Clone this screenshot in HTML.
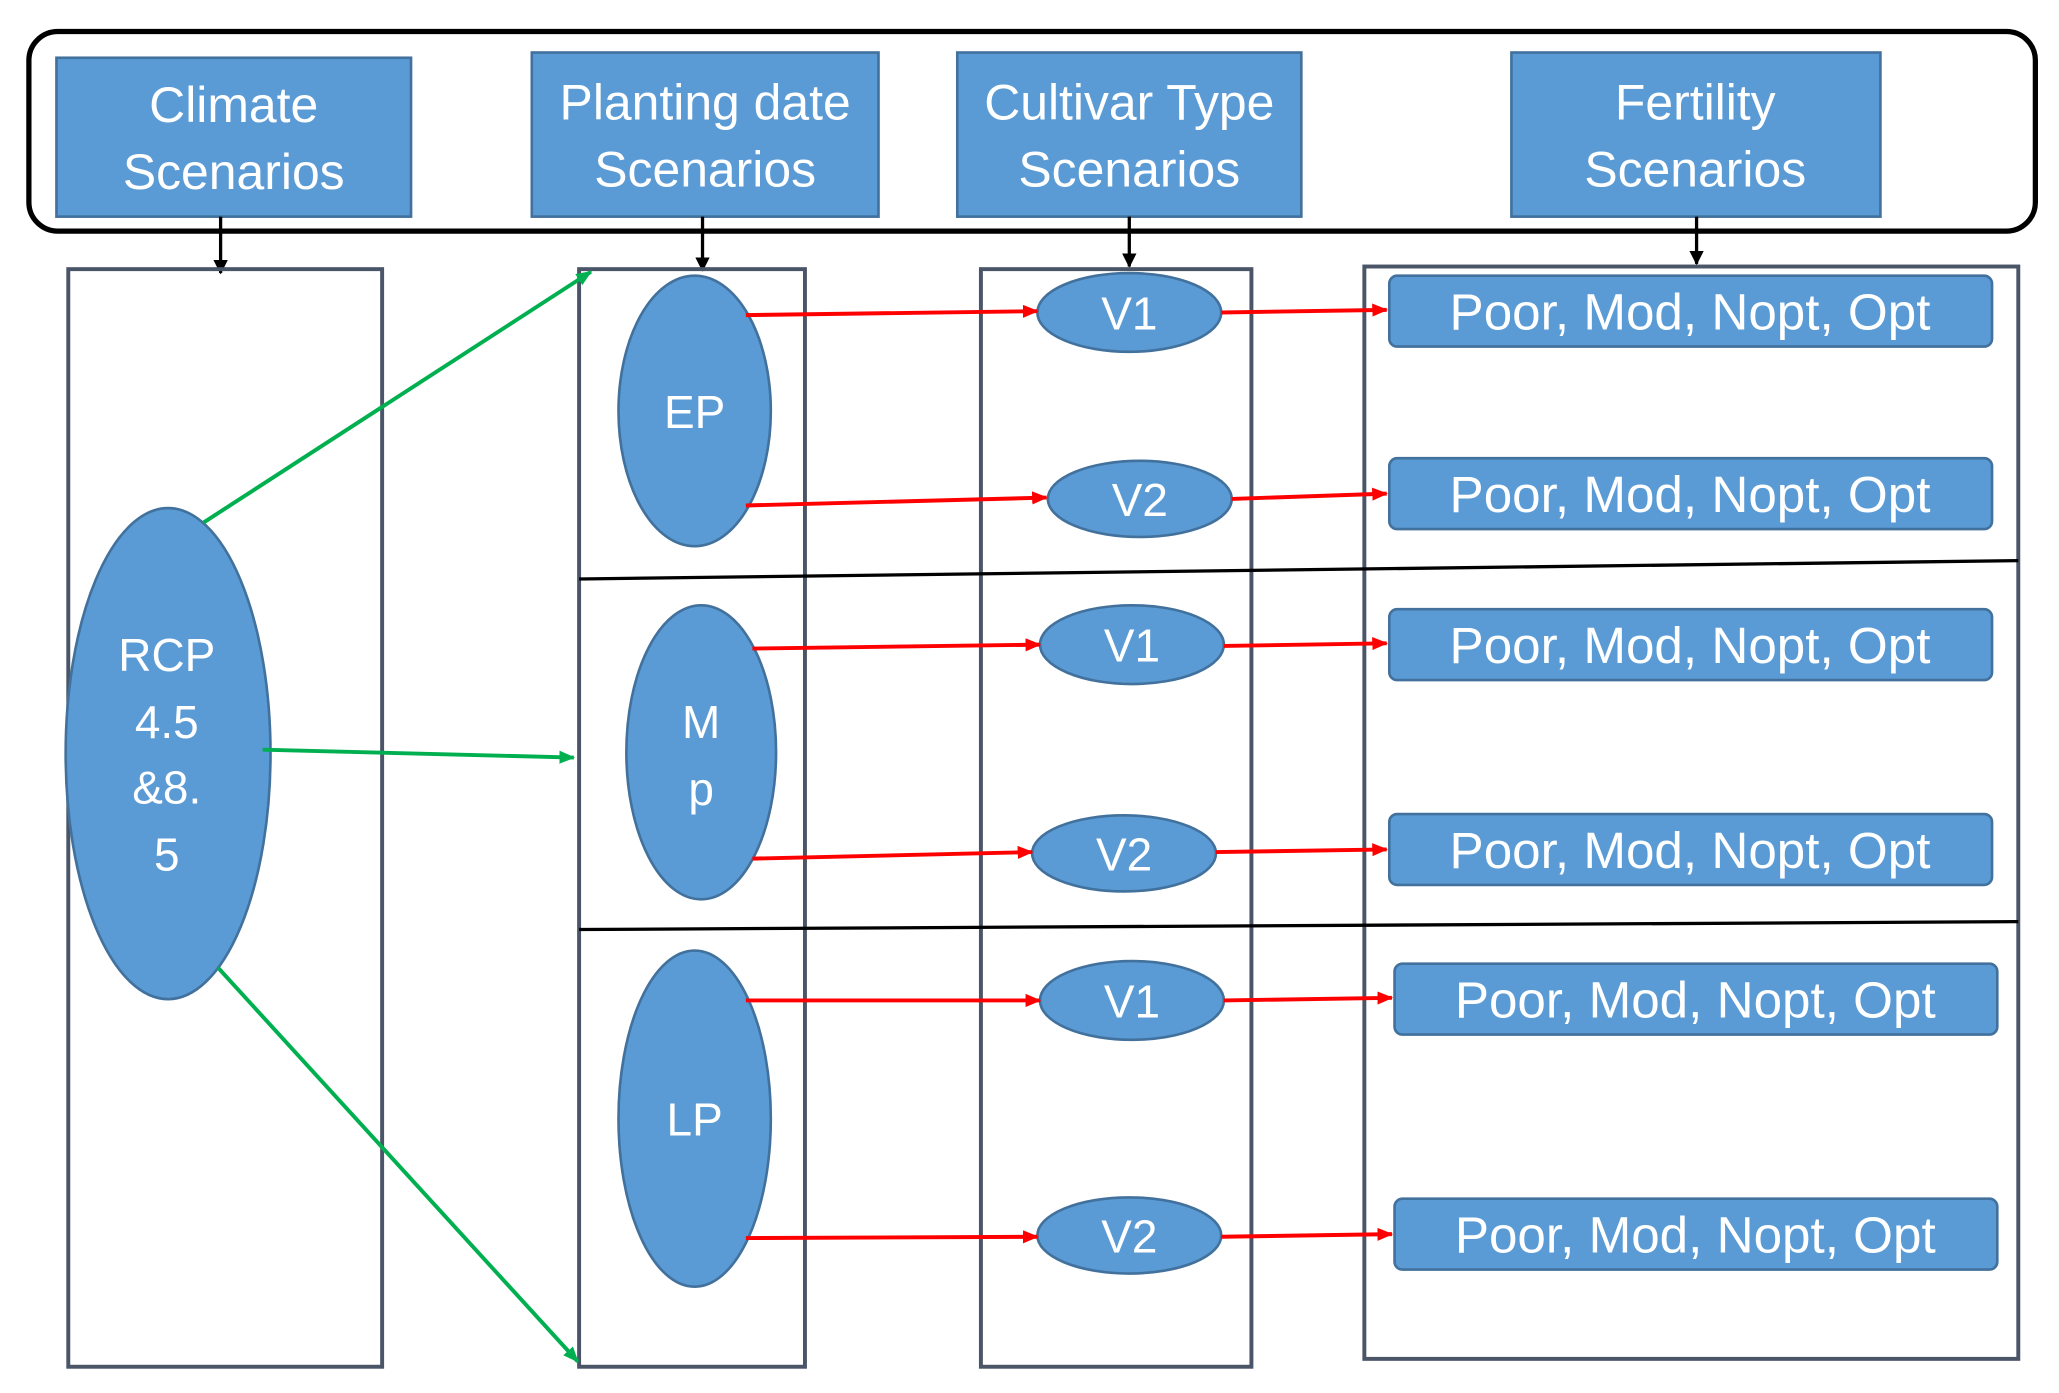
<!DOCTYPE html>
<html><head><meta charset="utf-8"><style>html,body{margin:0;padding:0;background:#fff}svg{display:block}</style></head>
<body>
<svg width="2059" height="1393" viewBox="0 0 1568 1061" preserveAspectRatio="none" xmlns="http://www.w3.org/2000/svg" font-family="'Liberation Sans', sans-serif">
<defs>
<marker id="ab" markerWidth="11" markerHeight="11" refX="10" refY="5.5" orient="auto" markerUnits="userSpaceOnUse"><path d="M0,0 L11,5.5 L0,11 z" fill="#000"/></marker>
<marker id="ar" markerWidth="12" markerHeight="10" refX="11" refY="5" orient="auto" markerUnits="userSpaceOnUse"><path d="M0,0 L12,5 L0,10 z" fill="#f00"/></marker>
<marker id="ag" markerWidth="12" markerHeight="10" refX="11" refY="5" orient="auto" markerUnits="userSpaceOnUse"><path d="M0,0 L12,5 L0,10 z" fill="#00b050"/></marker>
</defs>
<rect x="22" y="24" width="1528" height="152" rx="22" fill="#fff" stroke="#000" stroke-width="4"/>
<g fill="#5B9BD5" stroke="#41719C" stroke-width="2">
<rect x="43" y="44" width="270" height="121"/>
<rect x="405" y="40" width="264" height="125"/>
<rect x="729" y="40" width="262" height="125"/>
<rect x="1151" y="40" width="281" height="125"/>
</g>
<g fill="#fff" font-size="38" text-anchor="middle">
<text x="178" y="93">Climate</text><text x="178" y="144">Scenarios</text>
<text x="537" y="91">Planting date</text><text x="537" y="142">Scenarios</text>
<text x="860" y="91">Cultivar Type</text><text x="860" y="142">Scenarios</text>
<text x="1291" y="91">Fertility</text><text x="1291" y="142">Scenarios</text>
</g>
<g stroke="#000" stroke-width="2.5" marker-end="url(#ab)">
<line x1="168" y1="165" x2="168" y2="208"/>
<line x1="535" y1="165" x2="535" y2="206"/>
<line x1="860" y1="165" x2="860" y2="203"/>
<line x1="1292" y1="165" x2="1292" y2="201"/>
</g>
<g fill="none" stroke="#4a5568" stroke-width="3">
<rect x="52" y="205" width="239" height="836"/>
<rect x="441" y="205" width="172" height="836"/>
<rect x="747" y="205" width="206" height="836"/>
<rect x="1039" y="203" width="498" height="832"/>
</g>
<line x1="441" y1="441" x2="1537" y2="427" stroke="#000" stroke-width="2.5"/>
<line x1="441" y1="708" x2="1537" y2="702" stroke="#000" stroke-width="2.5"/>
<g fill="#5B9BD5" stroke="#41719C" stroke-width="2">
<ellipse cx="128" cy="574" rx="78" ry="187"/>
<ellipse cx="529" cy="313" rx="58" ry="103"/>
<ellipse cx="534" cy="573" rx="57" ry="112"/>
<ellipse cx="529" cy="852" rx="58" ry="128"/>
<ellipse cx="860" cy="238" rx="70" ry="30"/>
<ellipse cx="868" cy="380" rx="70" ry="29"/>
<ellipse cx="862" cy="491" rx="70" ry="30"/>
<ellipse cx="856" cy="650" rx="70" ry="29"/>
<ellipse cx="862" cy="762" rx="70" ry="30"/>
<ellipse cx="860" cy="941" rx="70" ry="29"/>
<rect x="1058" y="210" width="459" height="54" rx="6"/>
<rect x="1058" y="349" width="459" height="54" rx="6"/>
<rect x="1058" y="464" width="459" height="54" rx="6"/>
<rect x="1058" y="620" width="459" height="54" rx="6"/>
<rect x="1062" y="734" width="459" height="54" rx="6"/>
<rect x="1062" y="913" width="459" height="54" rx="6"/>
</g>
<g fill="#fff" font-size="35" text-anchor="middle">
<text x="127" y="511">RCP</text><text x="127" y="562">4.5</text><text x="127" y="612">&amp;8.</text><text x="127" y="663">5</text>
<text x="529" y="326">EP</text>
<text x="534" y="562">M</text><text x="534" y="613">p</text>
<text x="529" y="865">LP</text>
<text x="860" y="251">V1</text><text x="868" y="393">V2</text>
<text x="862" y="504">V1</text><text x="856" y="663">V2</text>
<text x="862" y="775">V1</text><text x="860" y="954">V2</text>
</g>
<g fill="#fff" font-size="39" text-anchor="middle">
<text x="1287" y="251">Poor, Mod, Nopt, Opt</text>
<text x="1287" y="390">Poor, Mod, Nopt, Opt</text>
<text x="1287" y="505">Poor, Mod, Nopt, Opt</text>
<text x="1287" y="661">Poor, Mod, Nopt, Opt</text>
<text x="1291" y="775">Poor, Mod, Nopt, Opt</text>
<text x="1291" y="954">Poor, Mod, Nopt, Opt</text>
</g>
<g stroke="#00b050" stroke-width="3" marker-end="url(#ag)">
<line x1="155" y1="398" x2="450" y2="207"/>
<line x1="200" y1="571" x2="437" y2="577"/>
<line x1="166" y1="737" x2="440" y2="1037"/>
</g>
<g stroke="#f00" stroke-width="3" marker-end="url(#ar)">
<line x1="568" y1="240" x2="790" y2="237"/>
<line x1="930" y1="238" x2="1056" y2="236"/>
<line x1="568" y1="385" x2="797" y2="379"/>
<line x1="938" y1="380" x2="1056" y2="376"/>
<line x1="573" y1="494" x2="792" y2="491"/>
<line x1="932" y1="492" x2="1056" y2="490"/>
<line x1="573" y1="654" x2="786" y2="649"/>
<line x1="926" y1="649" x2="1056" y2="647"/>
<line x1="568" y1="762" x2="792" y2="762"/>
<line x1="932" y1="762" x2="1060" y2="760"/>
<line x1="568" y1="943" x2="790" y2="942"/>
<line x1="930" y1="942" x2="1060" y2="940"/>
</g>
</svg>
</body></html>
